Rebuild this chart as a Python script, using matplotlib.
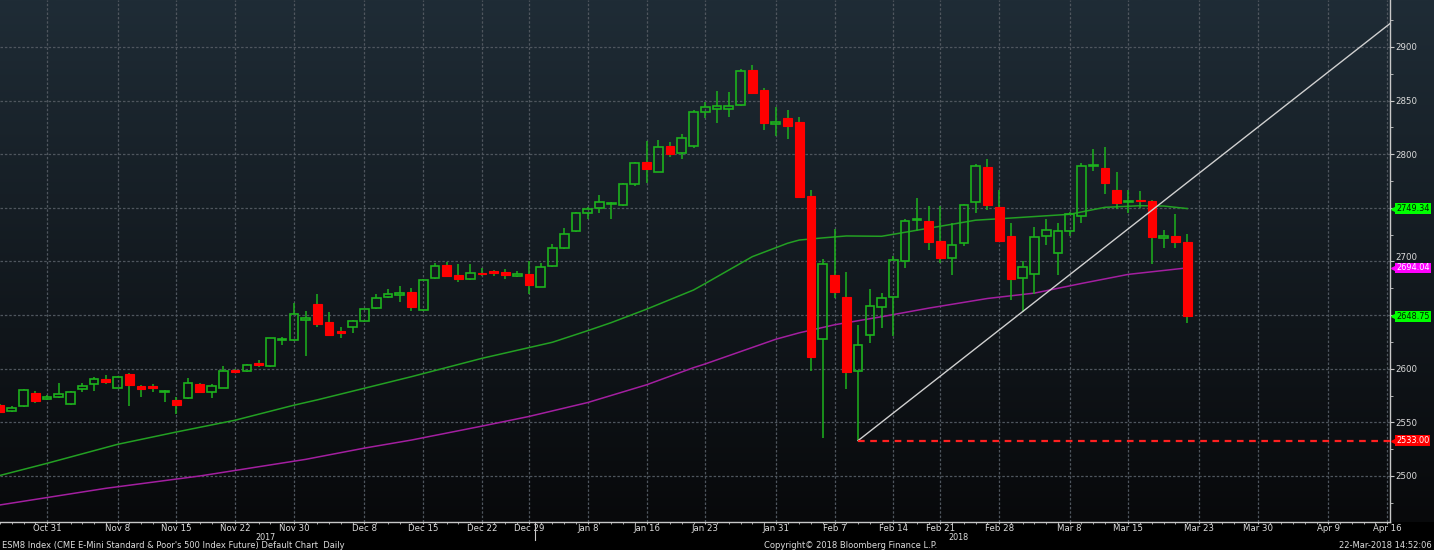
import numpy as np
import pandas as pd
import matplotlib
matplotlib.use("Agg")
import matplotlib.pyplot as plt
from matplotlib.patches import Rectangle
from matplotlib.transforms import blended_transform_factory, offset_copy

# trading days shown on the axis (weekends and exchange holidays skipped)
holidays = ["2017-11-23", "2017-12-25", "2018-01-01", "2018-01-15", "2018-02-19"]
days = pd.bdate_range("2017-10-25", "2018-04-16")
days = days[~days.isin(pd.to_datetime(holidays))]
pos = {d.strftime("%Y-%m-%d"): i for i, d in enumerate(days)}

# daily OHLC, Oct 25 2017 .. Mar 22 2018
opens = [2566, 2561, 2565, 2577.5, 2572, 2573.5, 2567, 2581, 2585.5, 2590,
         2582.5, 2595, 2584, 2584, 2578, 2571, 2572.5, 2586, 2578.5, 2582.5,
         2599, 2597.5, 2605, 2602.5, 2627, 2627, 2645, 2660.5, 2643.5, 2635.5,
         2639, 2644.5, 2656.5, 2667, 2669, 2672, 2655, 2684.5, 2696.5, 2687,
         2683.5, 2689, 2691, 2690, 2686.5, 2688, 2676.5, 2696, 2712.5, 2728,
         2745, 2749.5, 2753.5, 2753, 2772, 2793, 2783, 2807.5, 2801.5, 2808,
         2839.5, 2842.5, 2842, 2845.5, 2878.5, 2860, 2828.5, 2833.5, 2830.5, 2761,
         2628, 2687.5, 2667, 2598, 2631.5, 2657.5, 2666.5, 2700, 2738.5, 2738,
         2719.5, 2703, 2717, 2755, 2788, 2751, 2724, 2685, 2688, 2724,
         2707.5, 2728.5, 2742.5, 2789, 2787, 2767, 2755, 2757.5, 2756.5, 2722,
         2724, 2718]
highs = [2567, 2565, 2581, 2579, 2575.5, 2587, 2579, 2586.5, 2592.5, 2594,
         2593, 2596, 2585, 2586, 2580.5, 2574, 2591, 2587, 2585.5, 2602.5,
         2600, 2604, 2608, 2629, 2630, 2661.5, 2654, 2670, 2652.5, 2638.5,
         2645.5, 2656, 2669.5, 2674.5, 2677, 2675, 2684, 2699, 2699.5, 2697.5,
         2697.5, 2693.5, 2692, 2693, 2691, 2700, 2698.5, 2716, 2731, 2746,
         2750.5, 2762, 2755, 2773, 2793, 2812.5, 2813, 2811, 2819, 2841,
         2849, 2859, 2858, 2879.5, 2883, 2861.5, 2844.5, 2841, 2835, 2767,
         2702, 2730, 2690, 2641, 2674, 2671, 2705, 2740, 2759, 2752,
         2752, 2736, 2754, 2791, 2796, 2767, 2736, 2700.5, 2732.5, 2739.5,
         2735.5, 2746.5, 2792, 2805, 2807, 2783, 2767, 2765.5, 2757, 2729.5,
         2744, 2726]
lows = [2559, 2560, 2564, 2568, 2571, 2573, 2566.5, 2578.5, 2579.5, 2586,
        2582, 2565.5, 2573.5, 2578.5, 2569, 2558, 2572, 2577.5, 2573, 2582,
        2596, 2597, 2601.5, 2602, 2622, 2626, 2612, 2638.5, 2631, 2628.5,
        2633, 2644, 2655.5, 2665.5, 2662.5, 2654, 2654, 2684, 2685.5, 2681,
        2683, 2686, 2686, 2683.5, 2685.5, 2669.5, 2676, 2695, 2712, 2727.5,
        2739.5, 2745.5, 2740, 2752, 2770, 2773.5, 2783, 2797.5, 2796, 2806,
        2833.5, 2829.5, 2835, 2845, 2856.5, 2823, 2817, 2814, 2759, 2598,
        2535, 2665.5, 2581, 2533, 2624, 2638, 2630.5, 2693.5, 2728, 2710.5,
        2699, 2687.5, 2714.5, 2745, 2748, 2719, 2664, 2653, 2670, 2715.5,
        2687.5, 2724, 2735.5, 2784.5, 2762.5, 2748.5, 2745.5, 2749.5, 2698, 2713,
        2713, 2643]
closes = [2560, 2563, 2580, 2569.5, 2574, 2576, 2578.5, 2584, 2590, 2588,
          2592.5, 2585, 2581, 2582.5, 2579.5, 2566, 2586.5, 2578, 2584, 2598,
          2596.5, 2603.5, 2603.5, 2628.5, 2628, 2651.5, 2647, 2641.5, 2631.5, 2633.5,
          2644.5, 2655.5, 2666, 2669.5, 2671, 2658, 2683, 2696, 2686, 2684,
          2689.5, 2688, 2689, 2687, 2688.5, 2678, 2695, 2713, 2726, 2745,
          2749, 2755, 2754, 2772, 2791.5, 2786, 2807, 2800, 2815, 2839,
          2844, 2845, 2845, 2878, 2857.5, 2829, 2830.5, 2826.5, 2760.5, 2611,
          2698, 2672, 2597, 2622, 2658.5, 2665.5, 2701, 2738, 2739.5, 2718.5,
          2703, 2715.5, 2753, 2789, 2753, 2719.5, 2683.5, 2695, 2723, 2729,
          2728.5, 2744, 2789, 2789.5, 2773, 2754.5, 2756, 2756, 2723, 2724,
          2718.5, 2648.75]

# moving averages (candle number -> value)
ma_fast_idx = [0, 4, 10, 15, 20, 25, 27, 31, 35, 41, 45, 47, 50, 52, 55, 59, 60,
               64, 67, 68, 70, 72, 75, 79, 83, 86, 91, 94, 97, 99, 101]
ma_fast = [2500.5, 2511.8, 2529.5, 2541, 2552, 2566, 2571, 2581.8, 2592.6, 2609.7,
           2619.7, 2624.7, 2635.5, 2643, 2655.5, 2673.4, 2679.5, 2704.5, 2717, 2720,
           2722, 2723.8, 2723.5, 2731, 2738.5, 2740.5, 2744, 2750.5, 2752, 2751.7,
           2749.34]
ma_slow_idx = [0, 9, 17, 26, 31, 35, 41, 45, 50, 55, 59, 60, 66, 68, 71, 75, 79,
               84, 88, 92, 96, 101]
ma_slow = [2473, 2488.5, 2500, 2515.5, 2526, 2533.5, 2546.5, 2555.5, 2568.5, 2585,
           2601, 2604.5, 2627.5, 2633.5, 2641, 2648.5, 2656.5, 2665.5, 2670.5, 2679.5,
           2688, 2694.04]

# trend line anchors and support level
trend_a = ("2018-02-09", 2533)
trend_b = ("2018-03-02", 2653.3)
support = 2533

tick_dates = ["2017-10-31", "2017-11-08", "2017-11-15", "2017-11-22", "2017-11-30",
              "2017-12-08", "2017-12-15", "2017-12-22", "2017-12-29", "2018-01-08",
              "2018-01-16", "2018-01-23", "2018-01-31", "2018-02-07", "2018-02-14",
              "2018-02-21", "2018-02-28", "2018-03-08", "2018-03-15", "2018-03-23",
              "2018-03-30", "2018-04-09", "2018-04-16"]
price_ticks = [2500, 2550, 2600, 2650, 2700, 2750, 2800, 2850, 2900]

UP = "#1db21d"
DOWN = "#ff0000"
TXT = "#dcdcdc"

W, H = 1434, 550
fig = plt.figure(figsize=(W / 100, H / 100), dpi=100, facecolor="black")
plot_rect = [0, 28 / H, 1390 / W, 522 / H]

# background gradient (plot area + right label strip)
bg = fig.add_axes([0, 28 / H, 1, 522 / H], zorder=0)
top = np.array([31, 44, 54]) / 255
bot = np.array([8, 9, 11]) / 255
t = np.linspace(0, 1, 256)[:, None]
grad = (top * (1 - t) + bot * t)[:, None, :]
bg.imshow(grad, aspect="auto", extent=[0, 1, 0, 1])
bg.axis("off")

ax = fig.add_axes(plot_rect, zorder=1)
ax.patch.set_alpha(0)

xs = np.arange(len(opens))
bw = 0.74
for x, o, h, l, c in zip(xs, opens, highs, lows, closes):
    lo_b, hi_b = min(o, c), max(o, c)
    if c >= o:
        ax.vlines(x, hi_b, h, color=UP, lw=1.1, zorder=3)
        ax.vlines(x, l, lo_b, color=UP, lw=1.1, zorder=3)
        ax.add_patch(Rectangle((x - bw / 2, lo_b), bw, max(hi_b - lo_b, 0.6),
                               fill=False, ec=UP, lw=1.2, zorder=4))
    else:
        ax.vlines(x, l, h, color=UP, lw=1.1, zorder=3)
        ax.add_patch(Rectangle((x - bw / 2, lo_b), bw, max(hi_b - lo_b, 1.2),
                               fc=DOWN, ec=DOWN, lw=0.8, zorder=4))

ax.plot(ma_fast_idx, ma_fast, color="#23a023", lw=1.1, zorder=2)
ax.plot(ma_slow_idx, ma_slow, color="#a31fa0", lw=1.1, zorder=2)

# trend line from the Feb 9 low, extended to the right edge
xa, ya = pos[trend_a[0]], trend_a[1]
xb, yb = pos[trend_b[0]], trend_b[1]
x_end = len(days) + 1
slope = (yb - ya) / (xb - xa)
ax.plot([xa, x_end], [ya, ya + slope * (x_end - xa)], color="#d0d0d0", lw=1.0, zorder=5)
ax.plot([xa, x_end], [support, support], color="#ff2020", lw=1.6,
        ls=(0, (3, 2.5)), zorder=5)

ax.set_xlim(0.33, 118.25)
ax.set_ylim(2457.1, 2943.8)

# axes styling
for s in ["left", "top"]:
    ax.spines[s].set_visible(False)
for s in ["bottom", "right"]:
    ax.spines[s].set_color("#c8c8c8")
    ax.spines[s].set_linewidth(1.0)

# value tags hide the 2650 / 2750 labels in the original
ax.yaxis.tick_right()
ax.set_yticks(price_ticks)
ax.set_yticklabels(["" if p in (2650, 2750) else str(p) for p in price_ticks])
ax.set_yticks(np.arange(2475, 2926, 25), minor=True)
ax.tick_params(axis="y", which="both", colors="#c8c8c8", labelcolor=TXT,
               labelsize=6.2, length=3, pad=1)
ax.tick_params(axis="y", which="minor", length=2)
# 2700 sits just above the magenta tag
for lab in ax.get_yticklabels():
    if lab.get_text() == "2700":
        lab.set_transform(offset_copy(lab.get_transform(), fig=fig, y=5, units="dots"))

ax.set_xticks([pos[d] for d in tick_dates])
ax.set_xticklabels([f"{pd.Timestamp(d):%b} {pd.Timestamp(d).day}" for d in tick_dates])
ax.set_xticks(np.arange(len(days)), minor=True)
ax.tick_params(axis="x", which="both", colors="#c8c8c8", labelcolor=TXT,
               labelsize=6.2, length=1.5, pad=0)

ax.grid(True, which="major", color="#4f565e", lw=0.9, ls=(0, (2, 1.5)))
ax.set_axisbelow(True)

# right-side value tags
trans = blended_transform_factory(ax.transAxes, ax.transData)
tags = [(2749.34, "#00ff00", "#002000"), (2694.04, "#ff00ff", "#ffffff"),
        (2648.75, "#00ff00", "#002000"), (2533.00, "#ff0000", "#ffffff")]
for val, fc, tc in tags:
    ax.plot([1.003], [val], marker="<", ms=4.5, color=fc, transform=trans,
            clip_on=False, zorder=9)
    ax.text(1.0045, val, f"{val:.2f}", transform=trans, ha="left", va="center",
            fontsize=5.9, color=tc, zorder=10, clip_on=False,
            bbox=dict(boxstyle="square,pad=0.1", fc=fc, ec="none"))

# year markers and footer
yr = blended_transform_factory(ax.transData, fig.transFigure)
ax.text(22.55, 12.5 / H, "2017", transform=yr, ha="center", va="center",
        fontsize=5.8, color=TXT)
ax.text(81.5, 12.5 / H, "2018", transform=yr, ha="center", va="center",
        fontsize=5.8, color=TXT)
ax.plot([45.5, 45.5], [28 / H, 10 / H], transform=yr, color="#c8c8c8", lw=0.8,
        clip_on=False)

fig.text(2 / W, 1.5 / H, "ESM8 Index (CME E-Mini Standard & Poor's 500 Index Future) Default Chart  Daily",
         fontsize=6, color=TXT, ha="left", va="baseline")
fig.text(851 / W, 1.5 / H, "Copyright\u00a9 2018 Bloomberg Finance L.P.",
         fontsize=6, color=TXT, ha="center", va="baseline")
fig.text(1432 / W, 1.5 / H, "22-Mar-2018 14:52:06",
         fontsize=6, color=TXT, ha="right", va="baseline")

fig.savefig("out.png", dpi=100, facecolor="black")
